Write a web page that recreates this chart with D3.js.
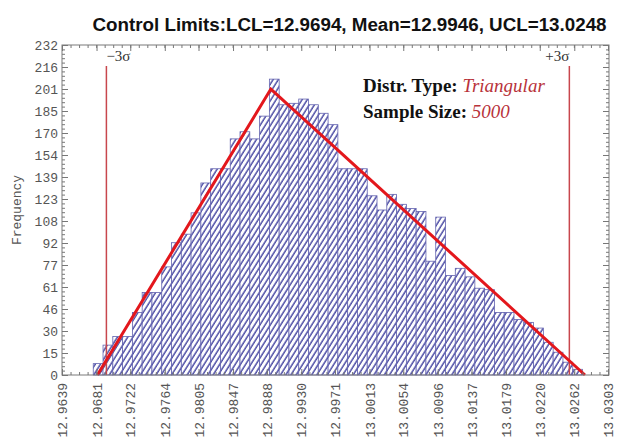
<!DOCTYPE html>
<html><head><meta charset="utf-8">
<script src="https://cdn.jsdelivr.net/npm/d3@7"></script>
<style>body{margin:0;background:#fff}</style>
</head><body>
<svg id="chart" width="617" height="441"></svg>
<script>
// ---- data ----
const binStart = 12.9677;
const binWidth = 0.00119;
const counts = [8,21,27,27,44,58,58,76,93,99,
                114,135,145,145,166,171,166,182,208,190,
                191,194,190,184,176,145,145,145,126,116,
                127,120,117,115,80,111,70,75,69,61,
                60,44,44,39,37,33,23,16,9,4];
const xTickLabels = ["12.9639","12.9681","12.9722","12.9764","12.9805","12.9847","12.9888","12.9930",
                     "12.9971","13.0013","13.0054","13.0096","13.0137","13.0179","13.0220","13.0262","13.0303"];
const yTickLabels = ["0","15","30","46","61","77","92","108","123","139","154","170","185","201","216","232"];
const yMax = 232;
const triangle = [[12.9682,0],[12.9893,201],[13.0275,0]];
const sigmaLines = [{v:12.9693,label:"\u22123\u03c3",anchor:"start"},{v:13.0256,label:"+3\u03c3",anchor:"end"}];
const titleText = "Control Limits:LCL=12.9694, Mean=12.9946, UCL=13.0248";
const distrType = "Triangular";
const sampleSize = "5000";

// ---- layout ----
const L = 62, R = 609, T = 45, B = 375;
const svg = d3.select("#chart");
const xMin = +xTickLabels[0], xMax = +xTickLabels[xTickLabels.length-1];
const x = d3.scaleLinear().domain([xMin, xMax]).range([L, 608]);
const y = d3.scaleLinear().domain([0, yMax]).range([B, T]);
const yTickVals = yTickLabels.map((d,i) => i*yMax/(yTickLabels.length-1));
const xTickVals = xTickLabels.map(Number);
const xStep = (xMax - xMin)/(xTickLabels.length-1);
const xMinor = d3.range(0, (xTickLabels.length-1)*4+1).map(i => xMin + i*xStep/4);
const yStep = yMax/(yTickLabels.length-1);
const yMinor = d3.range(0, (yTickLabels.length-1)*5+1).map(i => i*yStep/5);

// hatch pattern
const defs = svg.append("defs");
const pat = defs.append("pattern").attr("id","hatch").attr("patternUnits","userSpaceOnUse")
  .attr("width",4.4).attr("height",10).attr("patternTransform","rotate(32)");
pat.append("rect").attr("width",4.4).attr("height",10).attr("fill","#ffffff");
pat.append("line").attr("x1",1).attr("x2",1).attr("y1",0).attr("y2",10)
  .attr("stroke","#3c3c9c").attr("stroke-width",1.35);

// title
svg.append("text").attr("x", 349.5).attr("y", 31).attr("text-anchor","middle")
  .attr("font-family","Liberation Sans, Arial, sans-serif").attr("font-weight","bold")
  .attr("font-size","18.8px").attr("fill","#111").text(titleText);

// bars
const bins = counts.map((c,i) => ({x0: binStart + i*binWidth, x1: binStart + (i+1)*binWidth, c}));
svg.append("g").selectAll("rect").data(bins).join("rect")
  .attr("x", d => x(d.x0)).attr("width", d => x(d.x1)-x(d.x0))
  .attr("y", d => y(d.c)).attr("height", d => y(0)-y(d.c))
  .attr("fill","url(#hatch)").attr("stroke","#6464b0").attr("stroke-width",0.8);

// sigma lines
const sg = svg.append("g");
sg.selectAll("line").data(sigmaLines).join("line")
  .attr("x1", d => x(d.v)).attr("x2", d => x(d.v)).attr("y1", 66).attr("y2", B)
  .attr("stroke","#c8474d").attr("stroke-width",1.5);
sg.selectAll("text").data(sigmaLines).join("text")
  .attr("x", d => x(d.v)).attr("y", 61).attr("text-anchor", d => d.anchor)
  .attr("font-family","Liberation Serif, Times New Roman, serif").attr("font-size","15px")
  .attr("fill","#333").text(d => d.label);

// triangle
svg.append("path").datum(triangle)
  .attr("d", d3.line().x(d => x(d[0])).y(d => y(d[1])))
  .attr("fill","none").attr("stroke","#e3171c").attr("stroke-width",3).attr("stroke-linejoin","miter");

// frame
svg.append("rect").attr("x",L).attr("y",T).attr("width",R-L).attr("height",B-T)
  .attr("fill","none").attr("stroke","#7a7a7a").attr("stroke-width",1);

const tickColor = "#777";
function styleAxis(g){ g.select(".domain").remove(); g.selectAll("line").attr("stroke",tickColor); }

// bottom axis
const gb = svg.append("g").attr("transform",`translate(0,${B})`)
  .call(d3.axisBottom(x).tickValues(xTickVals).tickSize(-6).tickPadding(0).tickFormat((d,i)=>xTickLabels[i]));
styleAxis(gb);
gb.selectAll("text").attr("transform","rotate(-90)").attr("x",-8).attr("y",0).attr("dy","0.35em")
  .attr("text-anchor","end").attr("font-family","Liberation Mono, Courier New, monospace")
  .attr("font-size","13px").attr("fill","#555");
const gbm = svg.append("g").attr("transform",`translate(0,${B})`)
  .call(d3.axisBottom(x).tickValues(xMinor).tickSize(-3).tickFormat(""));
styleAxis(gbm);
// top axis
const gt = svg.append("g").attr("transform",`translate(0,${T})`)
  .call(d3.axisTop(x).tickValues(xTickVals).tickSize(-6).tickFormat(""));
styleAxis(gt);
const gtm = svg.append("g").attr("transform",`translate(0,${T})`)
  .call(d3.axisTop(x).tickValues(xMinor).tickSize(-3).tickFormat(""));
styleAxis(gtm);
// left axis
const gl = svg.append("g").attr("transform",`translate(${L},0)`)
  .call(d3.axisLeft(y).tickValues(yTickVals).tickSize(-6).tickPadding(4).tickFormat((d,i)=>yTickLabels[i]));
styleAxis(gl);
gl.selectAll("text").attr("font-family","Liberation Mono, Courier New, monospace")
  .attr("font-size","13px").attr("fill","#555");
const glm = svg.append("g").attr("transform",`translate(${L},0)`)
  .call(d3.axisLeft(y).tickValues(yMinor).tickSize(-3).tickFormat(""));
styleAxis(glm);
// right axis
const gr = svg.append("g").attr("transform",`translate(${R},0)`)
  .call(d3.axisRight(y).tickValues(yTickVals).tickSize(-6).tickFormat(""));
styleAxis(gr);
const grm = svg.append("g").attr("transform",`translate(${R},0)`)
  .call(d3.axisRight(y).tickValues(yMinor).tickSize(-3).tickFormat(""));
styleAxis(grm);

// y title
svg.append("text").attr("transform",`translate(21,${(T+B)/2}) rotate(-90)`).attr("text-anchor","middle")
  .attr("font-family","Liberation Mono, Courier New, monospace").attr("font-size","13px")
  .attr("fill","#555").text("Frequency");

// annotation
const ann = svg.append("g").attr("font-family","Liberation Serif, Times New Roman, serif").attr("font-size","19px");
const t1 = ann.append("text").attr("x",363).attr("y",92);
t1.append("tspan").attr("font-weight","bold").attr("fill","#111").text("Distr. Type: ");
t1.append("tspan").attr("font-style","italic").attr("fill","#b8323a").text(distrType);
const t2 = ann.append("text").attr("x",363).attr("y",118);
t2.append("tspan").attr("font-weight","bold").attr("fill","#111").text("Sample Size: ");
t2.append("tspan").attr("font-style","italic").attr("fill","#b8323a").text(sampleSize);
</script>
</body></html>
